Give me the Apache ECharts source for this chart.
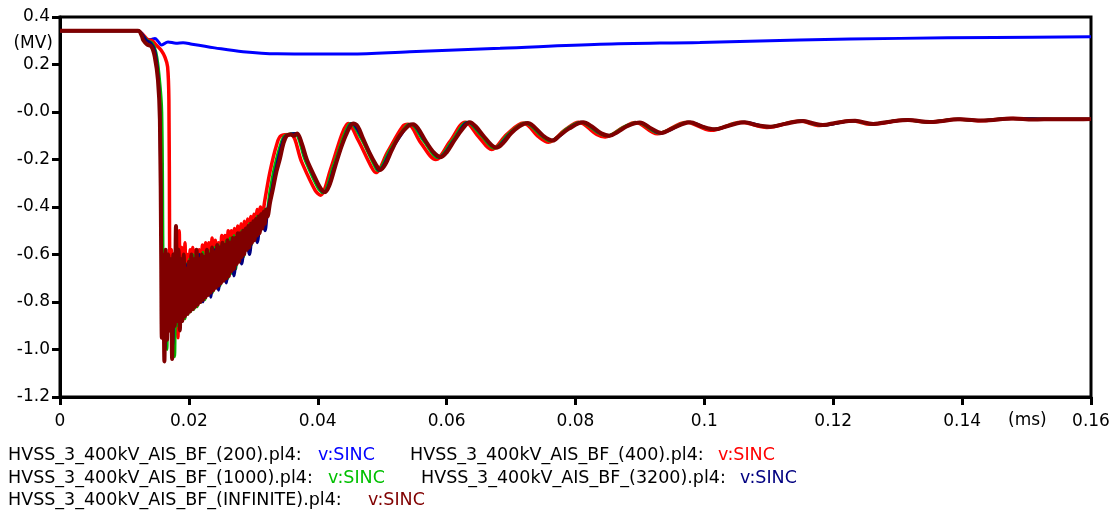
<!DOCTYPE html>
<html>
<head>
<meta charset="utf-8">
<script src="https://cdn.jsdelivr.net/npm/echarts@6/dist/echarts.min.js"></script>
<style>
html,body{margin:0;padding:0;background:#fff;}
#chart{width:1116px;height:515px;}
</style>
</head>
<body>
<div id="chart"></div>
<script>
// ---- data (time in ms, voltage in MV) ----
const yTicks = [0.4, 0.2, 0, -0.2, -0.4, -0.6, -0.8, -1.0, -1.2];
const xTicks = [0, 0.02, 0.04, 0.06, 0.08, 0.1, 0.12, 0.14, 0.16];

const legendNames = [
  'HVSS_3_400kV_AIS_BF_(200).pl4:',
  'HVSS_3_400kV_AIS_BF_(400).pl4:',
  'HVSS_3_400kV_AIS_BF_(1000).pl4:',
  'HVSS_3_400kV_AIS_BF_(3200).pl4:',
  'HVSS_3_400kV_AIS_BF_(INFINITE).pl4:'
];
const varName = 'v:SINC';

const s200 = [[0,0.342],[0.0121,0.342],[0.0128,0.328],[0.01345,0.303],[0.0142,0.305],[0.01474,0.31],[0.0152,0.298],[0.01578,0.282],[0.01676,0.295],[0.0180,0.29],[0.0191,0.292],[0.0205,0.285],[0.024,0.27],[0.0284,0.254],[0.0337,0.245],[0.040,0.244],[0.045,0.244],[0.0543,0.254],[0.0683,0.268],[0.0838,0.285],[0.0993,0.293],[0.1148,0.303],[0.1304,0.31],[0.145,0.314],[0.16,0.317]];

const s400 = [[0,0.342],[0.0121,0.342],[0.0129,0.325],[0.0136,0.305],[0.0143,0.3],[0.015,0.28],[0.0157,0.26],[0.0163,0.23],[0.0167,0.19],[0.0169,0.05],[0.0170,-0.5],
[0.0171,-0.92],[0.0173,-0.58],[0.0175,-0.9],[0.0177,-0.6],[0.0179,-0.88],[0.0181,-0.62],[0.0183,-0.95],[0.0185,-0.5],[0.0187,-0.88],[0.0189,-0.57],[0.0192,-0.87],[0.0194,-0.55],[0.0196,-0.85],[0.0198,-0.6],[0.02,-0.84],[0.0202,-0.58],[0.0204,-0.82],[0.0206,-0.57],[0.0208,-0.81],[0.0211,-0.58],[0.0213,-0.8],[0.0216,-0.58],[0.0218,-0.79],[0.0221,-0.56],[0.0223,-0.78],[0.0226,-0.55],[0.0228,-0.76],[0.0231,-0.55],[0.0233,-0.75],[0.0236,-0.53],[0.0238,-0.74],[0.0241,-0.54],[0.0243,-0.72],[0.0246,-0.55],[0.0248,-0.71],[0.0251,-0.52],[0.0253,-0.7],[0.0256,-0.52],[0.0258,-0.68],[0.0261,-0.5],[0.0263,-0.67],[0.0266,-0.5],[0.0268,-0.65],[0.0271,-0.49],[0.0273,-0.63],[0.0276,-0.48],[0.0278,-0.61],[0.0281,-0.47],[0.0283,-0.6],[0.0286,-0.46],[0.0288,-0.58],[0.0291,-0.45],[0.0293,-0.56],[0.0296,-0.44],[0.0298,-0.54],[0.0301,-0.43],[0.0303,-0.52],[0.0306,-0.41],[0.0308,-0.48],[0.0311,-0.40],[0.0313,-0.45],
[0.0318,-0.37],[0.0326,-0.25],[0.0336,-0.14],[0.0343,-0.1],[0.0358,-0.095],[0.0375,-0.21],[0.0396,-0.33],[0.0404,-0.35],[0.042,-0.24],[0.0438,-0.09],[0.0447,-0.048],[0.0463,-0.12],[0.0483,-0.23],[0.049,-0.255],[0.0508,-0.17],[0.0532,-0.06],[0.054,-0.052],[0.056,-0.13],[0.0583,-0.2],[0.0605,-0.125],[0.0629,-0.043],[0.065,-0.105],[0.067,-0.158],[0.0693,-0.095],[0.0719,-0.046],[0.0743,-0.105],[0.0758,-0.127],[0.0784,-0.075],[0.0805,-0.043],[0.0833,-0.095],[0.0846,-0.105],[0.0874,-0.065],[0.0893,-0.044],[0.0927,-0.092],[0.0972,-0.043],[0.101,-0.077],[0.1057,-0.043],[0.1097,-0.065],[0.1148,-0.038],[0.1179,-0.057],[0.1229,-0.037],[0.1258,-0.052],[0.1312,-0.034],[0.1346,-0.043],[0.1393,-0.031],[0.1428,-0.037],[0.1475,-0.027],[0.154,-0.031],[0.16,-0.03]];

const s1000 = [[0,0.342],[0.0121,0.342],[0.0129,0.32],[0.0136,0.3],[0.0143,0.29],[0.0149,0.25],[0.0154,0.15],[0.0158,0.0],[0.016,-0.62],
[0.0162,-0.95],[0.0164,-0.62],[0.0166,-1.0],[0.0168,-0.6],[0.017,-0.9],[0.0172,-0.63],[0.0174,-0.87],[0.0176,-0.6],[0.0178,-1.03],[0.018,-0.58],[0.0182,-0.9],[0.0184,-0.6],[0.0186,-0.9],[0.0188,-0.62],[0.019,-0.88],[0.0192,-0.6],[0.0194,-0.87],[0.0196,-0.64],[0.0199,-0.85],[0.0201,-0.62],[0.0203,-0.84],[0.0206,-0.6],[0.0208,-0.83],[0.0211,-0.6],[0.0213,-0.82],[0.0216,-0.6],[0.0219,-0.8],[0.0222,-0.59],[0.0225,-0.79],[0.0228,-0.58],[0.0231,-0.77],[0.0234,-0.58],[0.0237,-0.76],[0.024,-0.57],[0.0243,-0.74],[0.0246,-0.56],[0.0249,-0.73],[0.0252,-0.55],[0.0255,-0.71],[0.0258,-0.54],[0.0261,-0.7],[0.0264,-0.53],[0.0267,-0.68],[0.027,-0.52],[0.0273,-0.66],[0.0276,-0.51],[0.0279,-0.63],[0.0282,-0.5],[0.0285,-0.61],[0.0288,-0.49],[0.0291,-0.58],[0.0294,-0.47],[0.0297,-0.56],[0.03,-0.46],[0.0303,-0.53],[0.0306,-0.44],[0.0309,-0.51],[0.0312,-0.43],[0.0315,-0.47],[0.0318,-0.41],[0.032,-0.43],
[0.0326,-0.33],[0.0333,-0.23],[0.0343,-0.13],[0.0349,-0.1],[0.0364,-0.09],[0.038,-0.2],[0.04,-0.318],[0.0408,-0.34],[0.0424,-0.23],[0.0442,-0.09],[0.0451,-0.048],[0.0467,-0.11],[0.0487,-0.22],[0.0493,-0.246],[0.0512,-0.16],[0.0537,-0.06],[0.0544,-0.052],[0.0564,-0.12],[0.0587,-0.192],[0.0609,-0.12],[0.0632,-0.043],[0.0654,-0.1],[0.0674,-0.152],[0.0697,-0.09],[0.0722,-0.046],[0.0747,-0.1],[0.0761,-0.122],[0.0787,-0.07],[0.0808,-0.043],[0.0837,-0.09],[0.0849,-0.1],[0.0877,-0.06],[0.0896,-0.044],[0.093,-0.088],[0.0974,-0.043],[0.1012,-0.073],[0.1059,-0.043],[0.1098,-0.062],[0.1149,-0.038],[0.118,-0.055],[0.123,-0.037],[0.1258,-0.05],[0.1312,-0.034],[0.1346,-0.042],[0.1393,-0.031],[0.1428,-0.036],[0.1475,-0.027],[0.154,-0.03],[0.16,-0.03]];

const s3200 = [[0,0.342],[0.0121,0.342],[0.0128,0.325],[0.0134,0.302],[0.0141,0.29],[0.0147,0.26],[0.0152,0.16],[0.0155,0.0],[0.01575,-0.6],
[0.0159,-0.92],[0.0161,-0.6],[0.0163,-1.0],[0.0166,-0.64],[0.0169,-0.9],[0.0172,-0.62],[0.0175,-0.98],[0.0178,-0.6],[0.0182,-0.88],[0.0186,-0.62],[0.019,-0.88],[0.0195,-0.64],[0.02,-0.84],[0.0205,-0.62],[0.021,-0.82],[0.0216,-0.6],[0.0222,-0.8],[0.0228,-0.6],[0.0234,-0.78],[0.024,-0.58],[0.0246,-0.75],[0.0252,-0.57],[0.0258,-0.72],[0.0264,-0.55],[0.027,-0.69],[0.0276,-0.53],[0.0282,-0.64],[0.0288,-0.51],[0.0294,-0.6],[0.03,-0.48],[0.0306,-0.55],[0.0312,-0.45],[0.0318,-0.5],[0.0322,-0.42],
[0.0328,-0.34],[0.0335,-0.24],[0.0345,-0.13],[0.0351,-0.1],[0.0366,-0.09],[0.0382,-0.2],[0.0402,-0.315],[0.041,-0.338],[0.0426,-0.23],[0.0444,-0.09],[0.0453,-0.048],[0.0469,-0.11],[0.0489,-0.22],[0.0495,-0.245],[0.0514,-0.16],[0.0539,-0.06],[0.0546,-0.052],[0.0566,-0.12],[0.0589,-0.19],[0.0611,-0.12],[0.0634,-0.043],[0.0656,-0.1],[0.0676,-0.15],[0.0699,-0.09],[0.0724,-0.046],[0.0749,-0.1],[0.0763,-0.12],[0.0789,-0.07],[0.081,-0.043],[0.0839,-0.09],[0.0851,-0.1],[0.0879,-0.06],[0.0898,-0.044],[0.0932,-0.088],[0.0976,-0.043],[0.1014,-0.073],[0.1061,-0.043],[0.11,-0.062],[0.1151,-0.038],[0.1182,-0.055],[0.1232,-0.037],[0.126,-0.05],[0.1314,-0.034],[0.1348,-0.042],[0.1395,-0.031],[0.143,-0.036],[0.1477,-0.027],[0.1542,-0.03],[0.16,-0.03]];

const sINF = [[0,0.342],[0.0121,0.342],[0.0127,0.32],[0.0129,0.303],[0.0135,0.285],[0.0142,0.275],[0.0147,0.233],[0.0152,0.135],[0.0155,-0.03],[0.0157,-0.6],
[0.0158,-0.95],[0.0160,-0.60],[0.0162,-1.05],[0.0164,-0.58],[0.0166,-0.96],[0.0168,-0.60],[0.0170,-0.92],[0.0172,-0.62],[0.0174,-1.04],[0.0176,-0.60],[0.0178,-0.90],[0.0180,-0.48],[0.0182,-0.88],[0.0184,-0.58],[0.0186,-0.92],[0.0188,-0.62],[0.0190,-0.88],[0.0192,-0.60],[0.0194,-0.86],[0.0196,-0.66],[0.0198,-0.85],[0.0200,-0.63],[0.0202,-0.84],[0.0204,-0.60],[0.0206,-0.83],[0.0208,-0.62],[0.0210,-0.82],[0.0212,-0.58],[0.0214,-0.81],[0.0216,-0.62],[0.0218,-0.80],[0.0220,-0.60],[0.0222,-0.79],[0.0224,-0.61],[0.0226,-0.78],[0.0228,-0.58],[0.0230,-0.77],[0.0232,-0.60],[0.0234,-0.76],[0.0236,-0.57],[0.0238,-0.75],[0.0240,-0.59],[0.0242,-0.74],[0.0244,-0.56],[0.0246,-0.73],[0.0248,-0.57],[0.0250,-0.72],[0.0252,-0.55],[0.0254,-0.71],[0.0256,-0.56],[0.0258,-0.70],[0.0260,-0.54],[0.0262,-0.69],[0.0264,-0.55],[0.0266,-0.67],[0.0268,-0.53],[0.0270,-0.66],[0.0272,-0.53],[0.0274,-0.64],[0.0276,-0.51],[0.0278,-0.63],[0.0280,-0.51],[0.0282,-0.61],[0.0284,-0.50],[0.0286,-0.60],[0.0288,-0.49],[0.0290,-0.58],[0.0292,-0.48],[0.0294,-0.57],[0.0296,-0.47],[0.0298,-0.55],[0.0300,-0.46],[0.0302,-0.54],[0.0304,-0.45],[0.0306,-0.52],[0.0308,-0.44],[0.0310,-0.51],[0.0312,-0.43],[0.0314,-0.49],[0.0316,-0.42],[0.0318,-0.47],[0.0320,-0.41],[0.0322,-0.44],
[0.0326,-0.38],[0.0330,-0.33],[0.0336,-0.25],[0.0341,-0.2],[0.0347,-0.13],[0.0352,-0.10],[0.0358,-0.095],[0.0363,-0.1],[0.0368,-0.09],[0.0375,-0.13],[0.0383,-0.2],[0.0393,-0.26],[0.0403,-0.315],[0.0411,-0.338],[0.0418,-0.31],[0.0427,-0.23],[0.0435,-0.16],[0.0445,-0.09],[0.0455,-0.048],[0.0462,-0.06],[0.0470,-0.11],[0.0480,-0.17],[0.0490,-0.22],[0.0497,-0.244],[0.0505,-0.22],[0.0515,-0.16],[0.0527,-0.1],[0.0540,-0.06],[0.0548,-0.052],[0.0556,-0.07],[0.0567,-0.12],[0.0580,-0.17],[0.0591,-0.19],[0.0600,-0.17],[0.0612,-0.12],[0.0625,-0.07],[0.0636,-0.043],[0.0645,-0.06],[0.0657,-0.1],[0.0670,-0.14],[0.0678,-0.15],[0.0688,-0.13],[0.0700,-0.09],[0.0713,-0.06],[0.0726,-0.046],[0.0735,-0.06],[0.0750,-0.1],[0.0765,-0.12],[0.0775,-0.1],[0.0790,-0.07],[0.0812,-0.043],[0.0825,-0.06],[0.0840,-0.09],[0.0853,-0.1],[0.0865,-0.085],[0.0880,-0.06],[0.0900,-0.044],[0.0915,-0.065],[0.0934,-0.088],[0.0950,-0.07],[0.0978,-0.043],[0.0995,-0.06],[0.1016,-0.073],[0.1035,-0.06],[0.1063,-0.043],[0.1080,-0.055],[0.1102,-0.062],[0.1125,-0.05],[0.1153,-0.038],[0.1168,-0.047],[0.1184,-0.055],[0.1205,-0.045],[0.1234,-0.037],[0.1262,-0.05],[0.1290,-0.04],[0.1316,-0.034],[0.1350,-0.042],[0.1397,-0.031],[0.1432,-0.036],[0.1479,-0.027],[0.1510,-0.032],[0.1544,-0.03],[0.1580,-0.031],[0.16,-0.03]];

const colors = ['#0000ff', '#ff0000', '#00b400', '#000080', '#800000'];
const legendColors = ['#0000ff', '#ff0000', '#00c000', '#000080', '#800000'];
const seriesData = [s200, s400, s1000, s3200, sINF];
const widths = [3, 3.5, 3, 3, 4];

const FONT = 'DejaVu Sans';
const FS = 17;
const LFS = 17.5;
const chart = echarts.init(document.getElementById('chart'), null, {renderer: 'canvas'});

function txt(x, y, s, color, fs) {
  return {type: 'text', left: x, top: y, style: {text: s, fill: color, fontFamily: FONT, fontSize: fs || LFS}};
}

const option = {
  animation: false,
  backgroundColor: '#fff',
  grid: {left: 60, right: 25, top: 17, bottom: 118, show: true, borderColor: '#000', borderWidth: 3, backgroundColor: 'transparent'},
  xAxis: {
    type: 'value', min: xTicks[0], max: xTicks[xTicks.length - 1], interval: 0.02,
    axisLine: {show: true, onZero: false, lineStyle: {color: '#000', width: 3}},
    axisTick: {show: true, inside: false, length: 8, lineStyle: {color: '#000', width: 3}},
    axisLabel: {color: '#000', fontFamily: FONT, fontSize: FS, margin: 16,
      formatter: v => { const r = Math.round(v * 100) / 100; return xTicks.includes(r) ? String(r) : ''; }},
    splitLine: {show: false}
  },
  yAxis: {
    type: 'value', min: yTicks[yTicks.length - 1], max: yTicks[0], interval: 0.2,
    axisLine: {show: true, onZero: false, lineStyle: {color: '#000', width: 3}},
    axisTick: {show: true, inside: false, length: 8, lineStyle: {color: '#000', width: 3}},
    axisLabel: {color: '#000', fontFamily: FONT, fontSize: FS, margin: 10,
      formatter: v => Math.abs(v) < 1e-9 ? '-0.0' : v.toFixed(1)},
    splitLine: {show: false}
  },
  series: seriesData.map((d, i) => ({
    type: 'line', data: d, showSymbol: false, symbol: 'none', smooth: 0.35,
    lineStyle: {color: colors[i], width: widths[i]}, z: 2 + i, silent: true
  })),
  graphic: [
    {type: 'text', right: 1116 - 53, top: 35, style: {text: '(MV)', fill: '#000', fontFamily: FONT, fontSize: FS}},
    txt(1008, 412, '(ms)', '#000', FS),
    txt(8, 446, legendNames[0], '#000'), txt(318, 446, varName, legendColors[0]),
    txt(410, 446, legendNames[1], '#000'), txt(718, 446, varName, legendColors[1]),
    txt(8, 469, legendNames[2], '#000'), txt(328, 469, varName, legendColors[2]),
    txt(421, 469, legendNames[3], '#000'), txt(740, 469, varName, legendColors[3]),
    txt(8, 491, legendNames[4], '#000'), txt(368, 491, varName, legendColors[4])
  ]
};
chart.setOption(option);
</script>
</body>
</html>
